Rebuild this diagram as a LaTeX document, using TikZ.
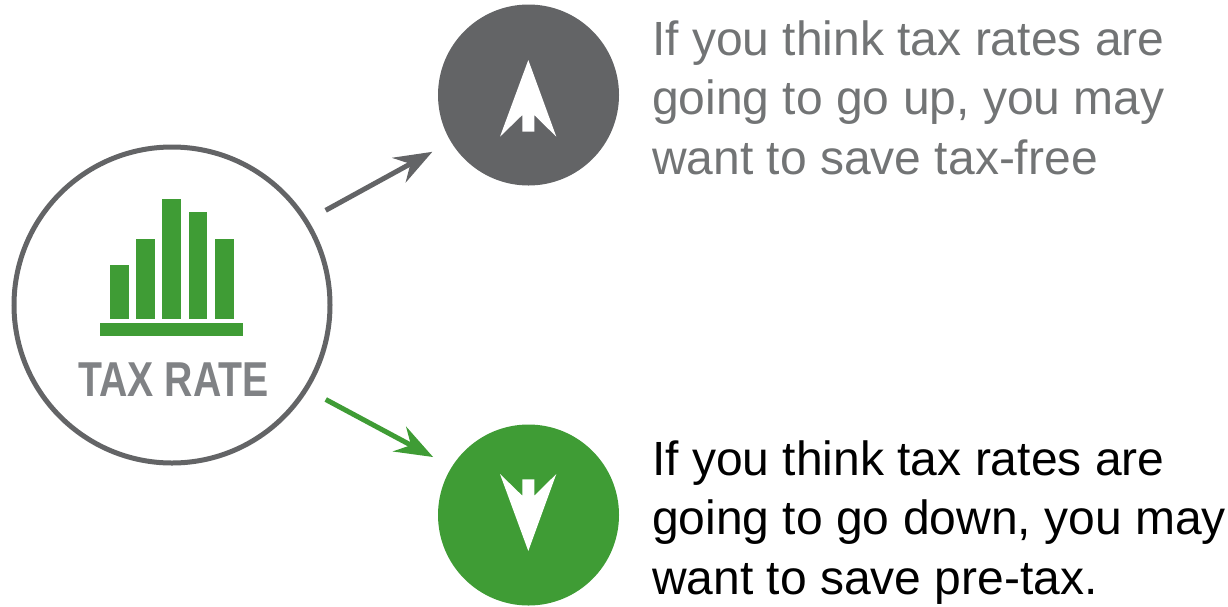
\documentclass[tikz,border=0pt]{standalone}
\usepackage{fontspec}
\setmainfont{Liberation Sans}
\newfontfamily\ratefont[FakeStretch=0.8]{Liberation Sans}
\usetikzlibrary{arrows.meta}
\definecolor{slate}{HTML}{636466}
\definecolor{leaf}{HTML}{3F9C35}
\definecolor{mist}{HTML}{808285}
\begin{document}
\begin{tikzpicture}[x=1pt, y=-1pt]
    \tikzstyle{rate} = [circle, draw=slate, line width=5pt, fill=white, inner sep=0pt, minimum size=316pt]
    \tikzstyle{choice} = [circle, inner sep=0pt, minimum size=181pt]
    \tikzstyle{advice} = [anchor=north west, align=left, inner sep=0pt, font=\fontsize{48}{59.5}\selectfont]
    \tikzstyle{arrow} = [line width=5pt, -{Stealth[length=38pt, width=28pt, inset=13pt]}, shorten <=20pt, shorten >=21pt]
    \useasboundingbox (0,0) rectangle (1228,606);

    % Circles
    \node [rate] (taxrate) at (172,305) {};
    \node [choice, fill=slate] (rateup) at (528.5,95) {};
    \node [choice, fill=leaf] (ratedown) at (528.5,515) {};

    % Connections
    \draw [arrow, slate] (taxrate.32.4) -- (rateup.211.2);
    \draw [arrow, leaf] (taxrate.-32.4) -- (ratedown.148.8);

    % Bars
    \fill [leaf] (110,265) rectangle (128.7,319);
    \fill [leaf] (136.3,238.7) rectangle (155,319);
    \fill [leaf] (162.3,199.3) rectangle (181,319);
    \fill [leaf] (189,212.3) rectangle (207,319);
    \fill [leaf] (215,238.7) rectangle (233.7,319);
    \fill [leaf] (100,323.3) rectangle (243.3,336.3);
    \node [text=mist, inner sep=0pt, font=\ratefont\bfseries\fontsize{49}{49}\selectfont] (ratelabel) at (173.5,380) {TAX RATE};

    % Arrows inside the circles
    \fill [white] (528.3,60) -- (556.3,136.7) -- (534.3,115) -- (534.3,131.7) -- (522.3,131.7) -- (522.3,115) -- (500,136.7) -- cycle;
    \fill [white] (528.3,551) -- (556.3,474) -- (534.3,495.7) -- (534.3,479.3) -- (522.3,479.3) -- (522.3,495.7) -- (500,474) -- cycle;

    % Texts
    \node [advice, text=slate!90!white] (uptext) at (652,20.5) {If you think tax rates are\\going to go up, you may\\want to save tax-free};
    \node [advice, text=black] (downtext) at (652,440.5) {If you think tax rates are\\going to go down, you may\\want to save pre-tax.};
\end{tikzpicture}
\end{document}
